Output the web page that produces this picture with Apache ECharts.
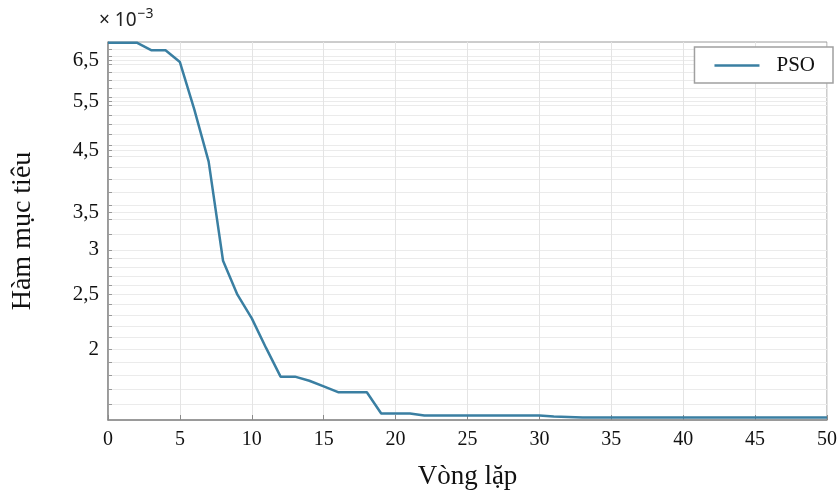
<!DOCTYPE html>
<html>
<head>
<meta charset="utf-8">
<script src="https://cdn.jsdelivr.net/npm/echarts@6/dist/echarts.min.js"></script>
<style>
    html, body { margin: 0; padding: 0; background: #fff; }
    #chart { width: 840px; height: 495px; }
</style>
</head>
<body>
<div id="chart"></div>
<script>
// vòng lặp 0..50
const iterations = [
    0, 1, 2, 3, 4, 5, 6, 7, 8, 9, 10, 11, 12, 13, 14, 15, 16, 17, 18, 19, 20,
    21, 22, 23, 24, 25, 26, 27, 28, 29, 30, 31, 32, 33, 34, 35, 36, 37, 38, 39, 40,
    41, 42, 43, 44, 45, 46, 47, 48, 49, 50
];
// giá trị hàm mục tiêu (x 10^-3)
const psoValues = [
    6.98, 6.98, 6.98, 6.77, 6.77, 6.45, 5.32, 4.30, 2.87, 2.50, 2.27,
    2.01, 1.79, 1.79, 1.76, 1.72, 1.68, 1.68, 1.68, 1.54, 1.54,
    1.54, 1.528, 1.528, 1.528, 1.528, 1.528, 1.528, 1.528, 1.528, 1.528,
    1.522, 1.519, 1.516, 1.515, 1.515, 1.515, 1.515, 1.515, 1.515, 1.515,
    1.515, 1.515, 1.515, 1.515, 1.515, 1.515, 1.515, 1.515, 1.515, 1.515
];
const yLabelValues = [2, 2.5, 3, 3.5, 4.5, 5.5, 6.5];
const yGridValues = [
    1.6, 1.7, 1.8, 1.9, 2.0, 2.1, 2.2, 2.3, 2.4, 2.5, 2.6, 2.7, 2.8, 2.9, 3.0,
    3.2, 3.4, 3.5, 3.6, 3.8, 4.0, 4.2, 4.4, 4.5, 4.6, 4.8, 5.0, 5.2, 5.4, 5.5,
    5.6, 5.8, 6.0, 6.2, 6.4, 6.5, 6.6, 6.8
];
const xTicks = [0, 5, 10, 15, 20, 25, 30, 35, 40, 45, 50];

const SCALE = 1e-3;
const serif = 'Liberation Serif';

const option = {
    animation: false,
    textStyle: { fontFamily: serif },
    grid: {
        left: 108,
        right: 5,
        top: 42,
        bottom: 73,
        show: true,
        borderColor: '#9a9a9a',
        borderWidth: 1,
    },
    graphic: [
        {
            type: 'text',
            left: 99,
            top: 7,
            style: {
                text: '{a|× 10}{b|−3}',
                rich: {
                    a: { fontFamily: 'Noto Sans', fontSize: 19, fill: '#222', verticalAlign: 'bottom' },
                    b: { fontFamily: 'Noto Sans', fontSize: 14, fill: '#222', padding: [0, 0, 9, 1] },
                },
            },
        },
    ],
    legend: {
        right: 7,
        top: 47,
        orient: 'vertical',
        backgroundColor: '#fff',
        borderColor: '#a0a0a0',
        borderWidth: 1.5,
        borderRadius: 0,
        padding: [8, 18, 7, 20],
        itemWidth: 45,
        itemHeight: 2.5,
        itemGap: 0,
        textStyle: {
            fontFamily: serif,
            fontSize: 21,
            color: '#111',
            padding: [0, 0, 0, 12],
        },
        data: [{ name: 'PSO', icon: 'rect' }],
    },
    xAxis: {
        type: 'value',
        min: 0,
        max: 50,
        interval: 5,
        name: 'Vòng lặp',
        nameLocation: 'middle',
        nameGap: 43,
        nameTextStyle: { fontFamily: serif, fontSize: 27, color: '#111' },
        axisLine: { lineStyle: { color: '#8a8a8a', width: 1.5 } },
        axisTick: { show: true, inside: true, length: 5, lineStyle: { color: '#8a8a8a' } },
        axisLabel: {
            fontFamily: serif,
            fontSize: 20,
            color: '#111',
            margin: 10,
            customValues: xTicks,
        },
        splitLine: { show: true, lineStyle: { color: '#e4e4e4', width: 1 } },
    },
    yAxis: {
        type: 'log',
        logBase: 10,
        min: 1.5 * SCALE,
        max: 7.0 * SCALE,
        name: 'Hàm mục tiêu',
        nameLocation: 'middle',
        nameRotate: 90,
        nameGap: 71,
        nameTextStyle: { fontFamily: serif, fontSize: 28, color: '#111' },
        axisLine: { show: true, lineStyle: { color: '#8a8a8a', width: 1.5 } },
        axisTick: {
            show: true,
            inside: true,
            length: 4,
            lineStyle: { color: '#9a9a9a' },
            customValues: yGridValues.map(v => v * SCALE),
        },
        axisLabel: {
            fontFamily: serif,
            fontSize: 21,
            color: '#111',
            margin: 9,
            customValues: yLabelValues.map(v => v * SCALE),
            formatter: v => String(Math.round(v / SCALE * 10) / 10).replace('.', ','),
        },
        splitLine: { show: true, lineStyle: { color: '#ebebeb', width: 1 } },
    },
    series: [
        {
            name: 'PSO',
            type: 'line',
            data: iterations.map((x, i) => [x, psoValues[i] * SCALE]),
            symbol: 'none',
            lineStyle: { color: '#3a7fa2', width: 2.5 },
            itemStyle: { color: '#3a7fa2' },
        },
    ],
};

const myChart = echarts.init(document.getElementById('chart'));
myChart.setOption(option);
</script>
</body>
</html>
